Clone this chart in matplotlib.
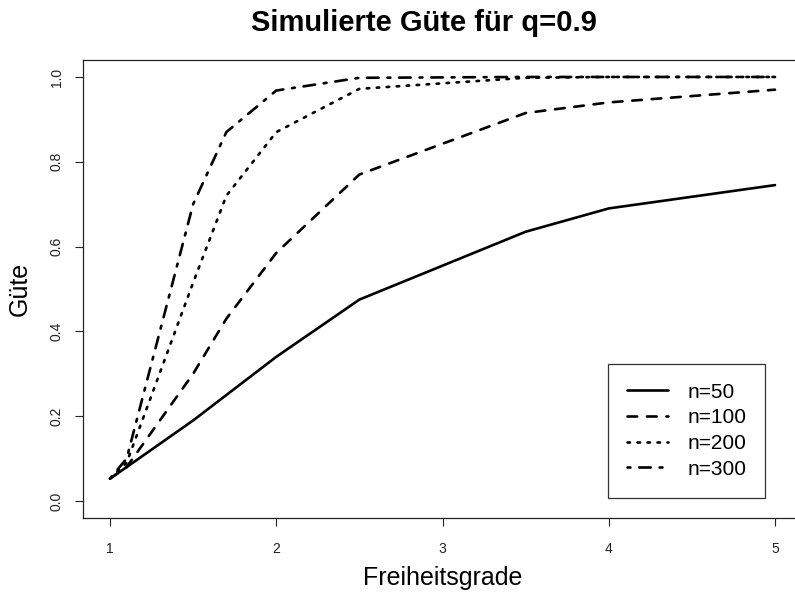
import matplotlib
matplotlib.use("Agg")
import matplotlib.pyplot as plt

plt.rcParams['font.family'] = ['Liberation Sans', 'DejaVu Sans']
plt.rcParams['lines.scale_dashes'] = False

# Freiheitsgrade (x) und simulierte Guete je Stichprobenumfang
df = [1, 1.1, 1.5, 1.7, 2, 2.5, 3.5, 4, 5]
guete_50 = [0.053, 0.08, 0.19, 0.25, 0.34, 0.475, 0.635, 0.69, 0.745]
guete_100 = [0.053, 0.08, 0.30, 0.43, 0.585, 0.77, 0.915, 0.94, 0.97]
guete_200 = [0.053, 0.09, 0.515, 0.72, 0.87, 0.972, 0.998, 1.0, 1.0]
guete_300 = [0.053, 0.10, 0.70, 0.87, 0.968, 0.998, 1.0, 1.0, 1.0]
labels = ["n=50", "n=100", "n=200", "n=300"]
xticks = [1, 2, 3, 4, 5]
yticks = [0.0, 0.2, 0.4, 0.6, 0.8, 1.0]

W, H = 795, 594
fig = plt.figure(figsize=(W / 100, H / 100), dpi=100)
ax = fig.add_axes([83.4 / W, 76 / H, (801.6 - 83.4) / W, (518 - 60) / H])

lw = 1.9
styles = [
    dict(linestyle="-"),
    dict(dashes=(7.0, 7.0)),
    dict(dashes=(1.8, 5.4)),
    dict(dashes=(2.1, 6.3, 8.4, 6.3)),
]
handles = []
for vals, st in zip([guete_50, guete_100, guete_200, guete_300], styles):
    h, = ax.plot(df, vals, color="black", lw=lw, dash_capstyle="round",
                 solid_capstyle="round", **st)
    handles.append(h)

ax.set_xlim(0.84, 5.16)
ax.set_ylim(-0.04, 1.04)
ax.set_xticks(xticks)
ax.set_xticklabels([str(t) for t in xticks])
ax.set_yticks(yticks)
ax.set_yticklabels(["%.1f" % t for t in yticks], rotation=90, va="center")
ax.tick_params(axis="both", direction="out", length=6, width=0.8,
               labelsize=10, colors="#222222")
ax.tick_params(axis="x", pad=11)
ax.tick_params(axis="y", pad=8)
for s in ax.spines.values():
    s.set_linewidth(0.9)
    s.set_color("#222222")

ax.set_xlabel("Freiheitsgrade", fontsize=18)
ax.xaxis.label.set_verticalalignment("center")
ax.xaxis.set_label_coords(0.5, -0.131)
ax.set_ylabel("Güte", fontsize=18)
ax.yaxis.label.set_verticalalignment("center")
ax.yaxis.set_label_coords(-0.088, 0.5)
fig.text(424 / W, 1 - 23 / H, "Simulierte Güte für q=0.9", fontsize=21,
         fontweight="bold", ha="center", va="center")

leg = ax.legend(handles, labels, loc="upper left",
                bbox_to_anchor=(608 / W, 1 - 364 / H),
                bbox_transform=fig.transFigure, fontsize=15,
                fancybox=False, framealpha=1, edgecolor="#333333",
                handlelength=2.0, handletextpad=0.9, labelspacing=0.32,
                borderpad=0.9, borderaxespad=0)
leg.get_frame().set_linewidth(0.9)

fig.savefig("out.png", dpi=100)
